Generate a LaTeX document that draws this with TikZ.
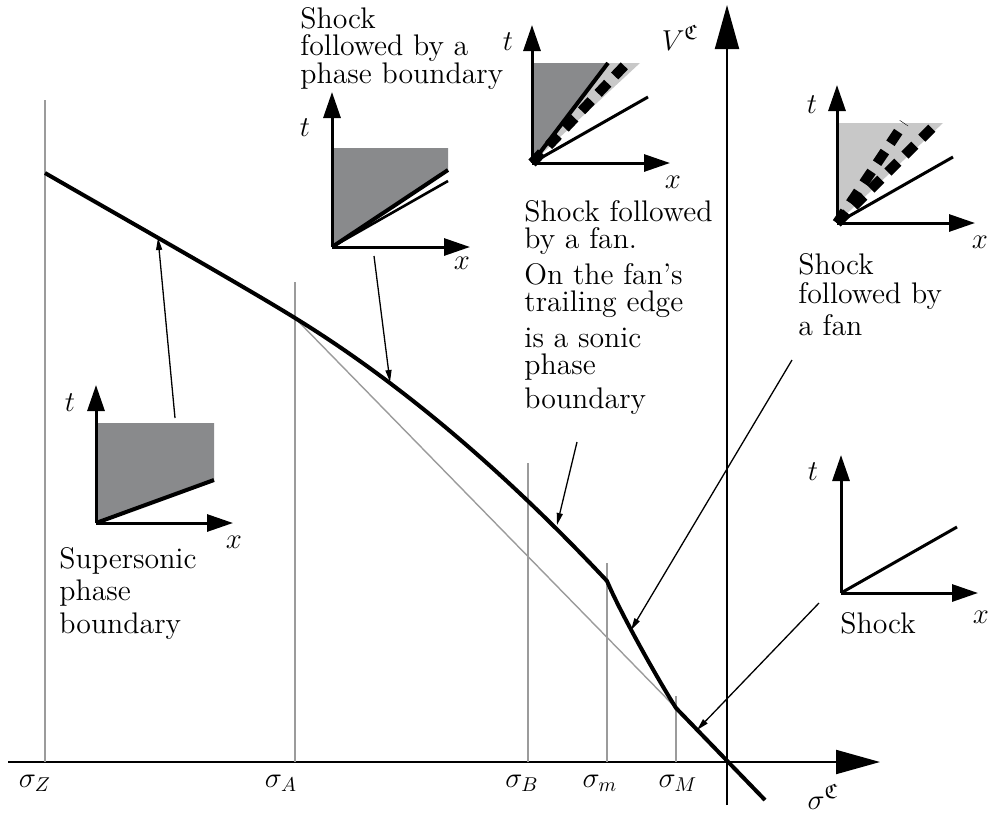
\documentclass[tikz,border=0pt]{standalone}
\usepackage{amsmath,amssymb}
\usepackage{tikz}
\usepackage{xcolor}
\usetikzlibrary{arrows.meta,positioning,calc}
\definecolor{regionGray}{RGB}{137,138,140}
\definecolor{fanGray}{RGB}{200,200,200}
\definecolor{guideGray}{RGB}{155,155,155}

\begin{document}
\begin{tikzpicture}[x=0.5pt, y=-0.5pt,
    font=\fontsize{14.9}{13.75}\selectfont,
    guide/.style={guideGray, line width=0.7pt},
    bigaxis/.style={line width=1pt, -{Triangle[length=22pt,width=12pt]}},
    smallaxis/.style={line width=1.5pt, -{Triangle[length=13pt,width=8.5pt]}},
    pointer/.style={line width=0.65pt, -{Triangle[length=6pt,width=3pt]}},
    txt/.style={inner sep=0pt, anchor=north west, align=left}]
    \useasboundingbox (0,0) rectangle (991,814);

    % main axes
    \coordinate (H0) at (8,762);
    \coordinate (H1) at (880,762);
    \coordinate (V0) at (727,805);
    \coordinate (V1) at (727,5);
    \draw[bigaxis] (H0) -- (H1);
    \draw[bigaxis] (V0) -- (V1);
    \node (Vc) at (680,38) {$V^{\mathfrak{C}}$};
    \node (Sc) at (823,797) {$\sigma^{\mathfrak{C}}$};

    % sigma marks
    \draw[guide] (45,100) -- (45,762);
    \draw[guide] (295,282) -- (295,762);
    \draw[guide] (528,463) -- (528,762);
    \draw[guide] (607,563) -- (607,762);
    \draw[guide] (676,696) -- (676,762);
    \node (sZ) at (35,783) {$\sigma_Z$};
    \node (sA) at (281,783) {$\sigma_A$};
    \node (sB) at (522,783) {$\sigma_B$};
    \node (sm) at (600,783) {$\sigma_m$};
    \node (sM) at (678,783) {$\sigma_M$};

    % kinetic relation
    \coordinate (c0) at (45,173);
    \coordinate (c1) at (158,238);
    \coordinate (c2) at (295,318);
    \coordinate (c3) at (390,382);
    \coordinate (c6) at (557,525);
    \coordinate (c7) at (607,581);
    \coordinate (c8) at (631,630);
    \coordinate (c9) at (676,708);
    \coordinate (c10) at (697,730);
    \coordinate (c11) at (765,800);
    \draw[guide] (c2) -- (c9);
    \draw[line width=2pt, line join=round]
        (c0) .. controls (130,222) and (245,287) .. (c2)
        .. controls (399,382) and (503,470) .. (c7)
        .. controls (620,612) and (657,678) .. (c9) -- (c11);

    % supersonic phase boundary
    \coordinate (O1) at (96,523);
    \fill[regionGray] (O1) -- (96,423) -- (214,423) -- (214,480) -- cycle;
    \draw[line width=2pt] (O1) -- (214,480);
    \draw[smallaxis] (O1) -- (96,385);
    \draw[smallaxis] (O1) -- (233,523);
    \node (t1) at (70,403) {$t$};
    \node (x1) at (234,542) {$x$};
    \node[txt] (L1) at (59,547) {Supersonic\\[2.5pt]phase\\[2.5pt]boundary};

    % shock + phase boundary
    \coordinate (O2) at (332,247);
    \fill[regionGray] (O2) -- (332,148) -- (448,148) -- (448,170) -- cycle;
    \draw[line width=2pt] (O2) -- (448,170);
    \draw[line width=1.3pt] (O2) -- (448,181);
    \draw[smallaxis] (O2) -- (332,92);
    \draw[smallaxis] (O2) -- (470,247);
    \node (t2) at (305,128) {$t$};
    \node (x2) at (462,263) {$x$};
    \node[txt] (L2) at (300,7) {Shock\\followed by a\\phase boundary};

    % shock + fan with sonic trailing edge
    \coordinate (O3) at (532,163);
    \fill[regionGray] (O3) -- (532,63) -- (608,63) -- cycle;
    \fill[fanGray] (O3) -- (608,63) -- (640,63) -- cycle;
    \draw[line width=5pt, dash pattern=on 7pt off 5pt] (O3) -- (627,63);
    \draw[line width=2pt] (O3) -- (608,63);
    \draw[line width=1.5pt] (O3) -- (648,97);
    \draw[smallaxis] (O3) -- (532,25);
    \draw[smallaxis] (O3) -- (670,163);
    \node (t3) at (508,42) {$t$};
    \node (x3) at (673,182) {$x$};
    \node[txt] (L3) at (524,200) {Shock followed\\by a fan.\\[4pt]On the fan's\\trailing edge\\[4pt]is a sonic\\phase\\[3pt]boundary};

    % shock + fan
    \coordinate (O4) at (837,223);
    \fill[fanGray] (O4) -- (837,123) -- (943,123) -- cycle;
    \draw[line width=5pt, dash pattern=on 7pt off 5pt] (O4) -- (904,123);
    \draw[line width=5pt, dash pattern=on 7pt off 5pt] (O4) -- (937,123);
    \draw[line width=1.5pt] (O4) -- (953,157);
    \draw[smallaxis] (O4) -- (837,85);
    \draw[smallaxis] (O4) -- (975,223);
    \node (t4) at (812,105) {$t$};
    \node (x4) at (980,242) {$x$};
    \node[txt] (L4) at (798,253) {Shock\\[0.8pt]followed by\\[2.5pt]a fan};

    % single shock
    \coordinate (O5) at (841,593);
    \draw[line width=1.5pt] (O5) -- (957,527);
    \draw[smallaxis] (O5) -- (841,455);
    \draw[smallaxis] (O5) -- (978,593);
    \node (t5) at (813,472) {$t$};
    \node (x5) at (981,617) {$x$};
    \node[txt] (L5) at (840,612) {Shock};

    % pointers to the curve
    \coordinate (a1) at (175,418);
    \coordinate (a2) at (374,256);
    \coordinate (a3) at (577,442);
    \coordinate (a4) at (792,360);
    \coordinate (a5) at (819,603);
    \draw[pointer] (a1) -- (c1);
    \draw[pointer] (a2) -- (c3);
    \draw[pointer] (a3) -- (c6);
    \draw[pointer] (a4) -- (c8);
    \draw[pointer] (a5) -- (c10);
\end{tikzpicture}
\end{document}
